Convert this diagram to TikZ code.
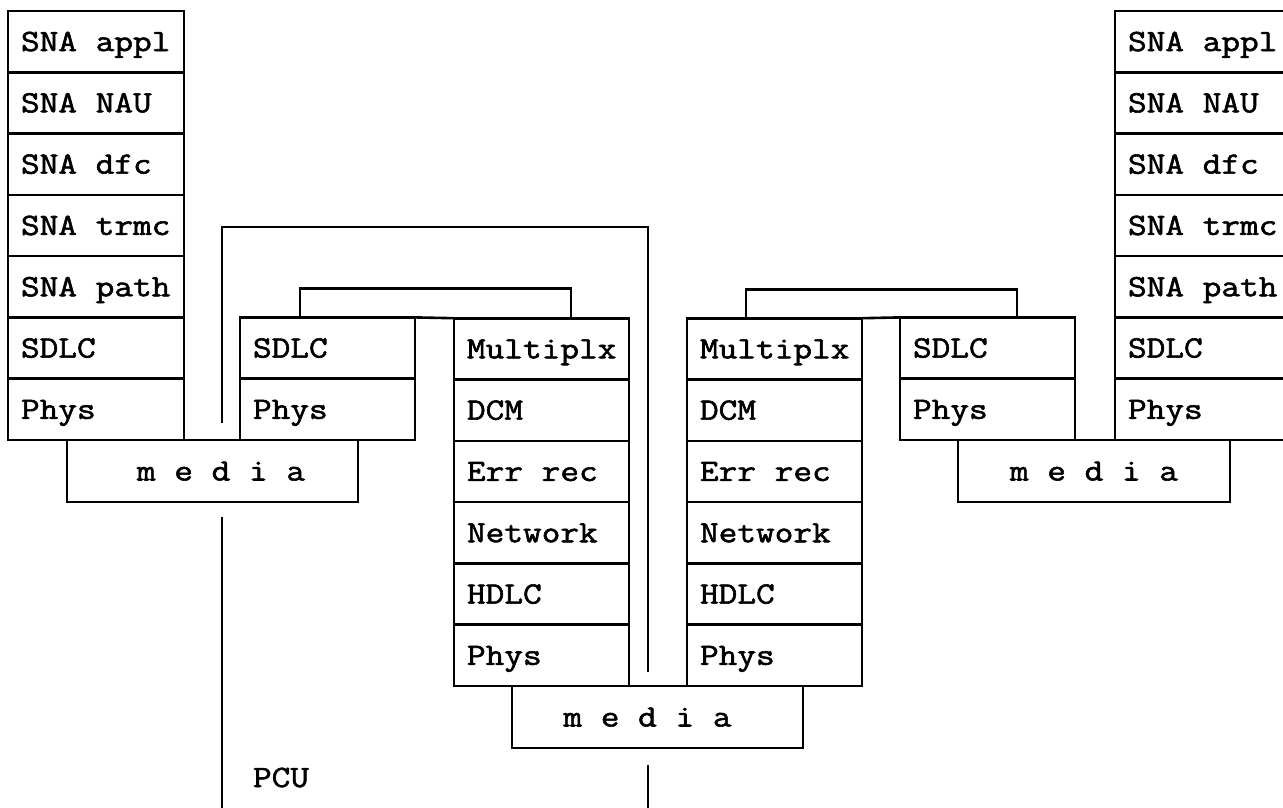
\documentclass[tikz,border=0pt]{standalone}
\usepackage{fontspec}
\newfontfamily\typer{Latin Modern Mono}[FakeStretch=1.17, FakeBold=1.8]
\newcommand\typerface{\typer\fontsize{31}{36}\selectfont}
% one character cell of blank space
\newcommand\gap{\kern\fontcharwd\font`\m\relax}
\begin{document}
\begin{tikzpicture}[x=1pt,y=-1pt,
  every node/.style={font=\typerface, outer sep=0pt},
  rowbox/.style={draw, rectangle, line width=2.6pt, minimum width=175pt,
    minimum height=61.3pt, text width=149pt, inner xsep=13pt, inner ysep=0pt,
    align=left, text height=19pt, text depth=0pt, anchor=south west},
  mediabox/.style={draw, rectangle, line width=2.6pt, minimum height=62pt,
    inner sep=0pt, text height=19pt, text depth=0pt, anchor=north west},
  wire/.style={line width=2.6pt}]
\useasboundingbox (0,0) rectangle (1283,807);
\clip (0,0) rectangle (1283,807);

% host stack, left
\foreach \t [count=\i] in {SNA\gap appl,SNA\gap NAU,SNA\gap dfc,SNA\gap trmc,SNA\gap path,SDLC,Phys}
  \node[rowbox, minimum width=176pt, text width=150pt] (L\i) at ({8},{440-(7-\i)*61.3}) {\mbox{\t}};
% host stack, right
\foreach \t [count=\i] in {SNA\gap appl,SNA\gap NAU,SNA\gap dfc,SNA\gap trmc,SNA\gap path,SDLC,Phys}
  \node[rowbox, minimum width=176pt, text width=150pt] (R\i) at ({1115},{440-(7-\i)*61.3}) {\mbox{\t}};
% line stacks next to the hosts
\foreach \t [count=\i] in {SDLC,Phys}
  \node[rowbox] (A\i) at ({240},{440-(2-\i)*61.3}) {\mbox{\t}};
\foreach \t [count=\i] in {SDLC,Phys}
  \node[rowbox] (D\i) at ({900},{440-(2-\i)*61.3}) {\mbox{\t}};
% PCU stacks
\foreach \t [count=\i] in {Multiplx,DCM,Err\gap rec,Network,HDLC,Phys}
  \node[rowbox] (B\i) at ({454},{686-(6-\i)*61.3}) {\mbox{\t}};
\foreach \t [count=\i] in {Multiplx,DCM,Err\gap rec,Network,HDLC,Phys}
  \node[rowbox] (C\i) at ({687},{686-(6-\i)*61.3}) {\mbox{\t}};

% media bars
\node[mediabox, minimum width=291pt] (mL) at (67,440) {\hspace*{17pt}m\gap e\gap d\gap i\gap a};
\node[mediabox, minimum width=291pt] (mM) at (512,686) {m\gap e\gap d\gap i\gap a\hspace*{20pt}};
\node[mediabox, minimum width=272pt] (mR) at (958,440) {m\gap e\gap d\gap i\gap a};

% base and top rails between neighbouring stacks
\draw[wire] (L7.south east) -- (A2.south west);
\draw[wire] (B6.south east) -- (C6.south west);
\draw[wire] (D2.south east) -- (R7.south west);
\draw[wire] (A1.north east) -- (B1.north west);
\draw[wire] (C1.north east) -- (D1.north west);

% peer brackets
\draw[wire] ([xshift=60pt]A1.north west) -- ++(0,-29) -| ([xshift=117pt]B1.north west);
\draw[wire] ([xshift=59pt]C1.north west) -- ++(0,-29) -| ([xshift=117pt]D1.north west);

% outer bracket and PCU boundary
\coordinate (pa) at (222,423);
\coordinate (pb) at (648,672);
\draw[wire] (pa) -- ++(0,-196) -| (pb);
\coordinate (qa) at (222,517);
\coordinate (qb) at (222,812);
\coordinate (ra) at (648,765);
\coordinate (rb) at (648,812);
\draw[wire] (qa) -- (qb);
\draw[wire] (ra) -- (rb);
\node[anchor=base west, inner sep=0pt] (pcu) at (253,787) {PCU};
\end{tikzpicture}
\end{document}
